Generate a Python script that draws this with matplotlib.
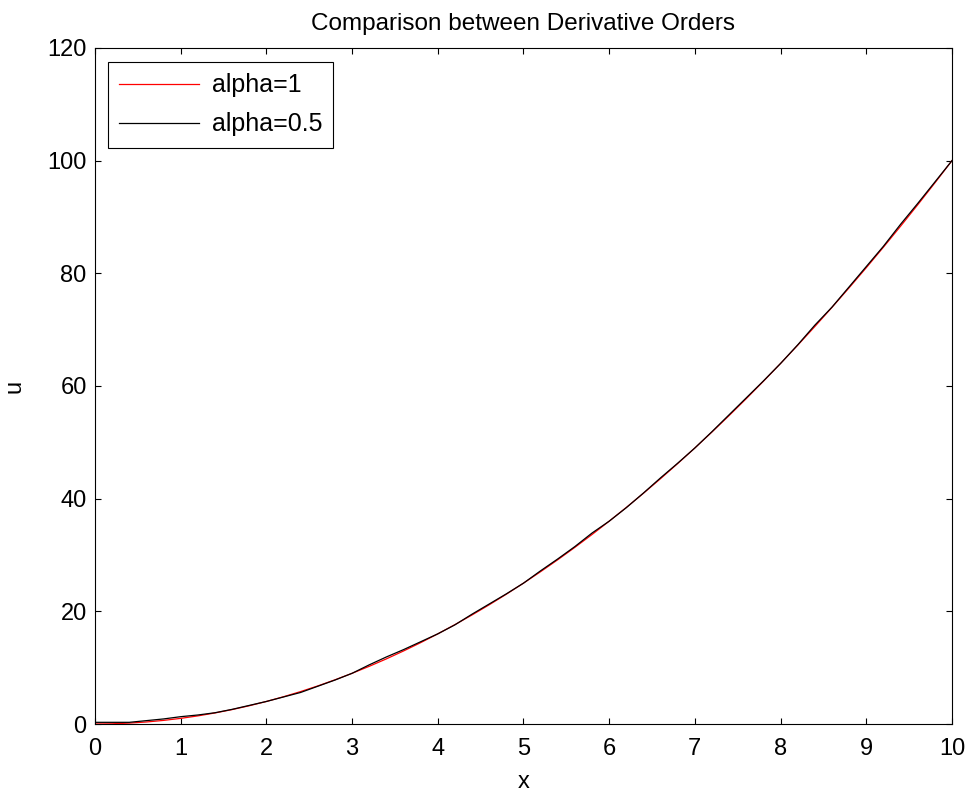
import numpy as np
import matplotlib.pyplot as plt
import matplotlib as mpl
from matplotlib.ticker import MultipleLocator

mpl.rcParams['font.family'] = 'Liberation Sans'

# x sampled every 0.2
x = [0.0, 0.2, 0.4, 0.6, 0.8, 1.0, 1.2, 1.4, 1.6, 1.8,
     2.0, 2.2, 2.4, 2.6, 2.8, 3.0, 3.2, 3.4, 3.6, 3.8,
     4.0, 4.2, 4.4, 4.6, 4.8, 5.0, 5.2, 5.4, 5.6, 5.8,
     6.0, 6.2, 6.4, 6.6, 6.8, 7.0, 7.2, 7.4, 7.6, 7.8,
     8.0, 8.2, 8.4, 8.6, 8.8, 9.0, 9.2, 9.4, 9.6, 9.8, 10.0]
u_alpha1 = [0.0, 0.04, 0.16, 0.36, 0.64, 1.0, 1.44, 1.96, 2.56, 3.24,
            4.0, 4.84, 5.76, 6.76, 7.84, 9.0, 10.24, 11.56, 12.96, 14.44,
            16.0, 17.64, 19.36, 21.16, 23.04, 25.0, 27.04, 29.16, 31.36, 33.64,
            36.0, 38.44, 40.96, 43.56, 46.24, 49.0, 51.84, 54.76, 57.76, 60.84,
            64.0, 67.24, 70.56, 73.96, 77.44, 81.0, 84.64, 88.36, 92.16, 96.04, 100.0]
u_alpha05 = [0.3, 0.3, 0.3, 0.6, 0.9, 1.3, 1.6, 2.0, 2.6, 3.3,
             4.0, 4.8, 5.6, 6.7, 7.8, 9.0, 10.5, 11.9, 13.2, 14.6,
             16.0, 17.6, 19.5, 21.3, 23.1, 25.0, 27.2, 29.3, 31.5, 33.9,
             36.0, 38.4, 41.0, 43.7, 46.3, 49.0, 51.9, 54.9, 57.9, 60.9,
             64.0, 67.3, 70.8, 74.0, 77.6, 81.2, 84.8, 88.7, 92.4, 96.2, 100.0]

fig = plt.figure(figsize=(9.72, 7.93), dpi=100)
ax = fig.add_axes([0.0977, 0.087, 0.8817, 0.8525])

ax.plot(x, u_alpha1, '-', color='red', linewidth=0.9, label='alpha=1')
ax.plot(x, u_alpha05, '-', color='black', linewidth=0.9, label='alpha=0.5')

ax.set_xlim(0, 10)
ax.set_ylim(0, 120)
ax.xaxis.set_major_locator(MultipleLocator(1))
ax.yaxis.set_major_locator(MultipleLocator(20))
ax.tick_params(direction='in', length=4, width=0.8, top=True, right=True,
               labelsize=17)
ax.tick_params(axis='x', pad=10)
ax.tick_params(axis='y', pad=6)
for spine in ax.spines.values():
    spine.set_linewidth(0.8)

ax.set_xlabel('x', fontsize=17, labelpad=8)
ax.set_ylabel('u', fontsize=17, labelpad=16)
ax.set_title('Comparison between Derivative Orders', fontsize=17.5, pad=13)

leg = ax.legend(loc='upper left', bbox_to_anchor=(0.015, 0.979), borderaxespad=0,
                fontsize=18, fancybox=False, edgecolor='black', framealpha=1,
                handlelength=3.2, handletextpad=0.5, borderpad=0.45,
                labelspacing=0.6)
leg.get_frame().set_linewidth(0.8)

plt.savefig('out.png', dpi=100)
